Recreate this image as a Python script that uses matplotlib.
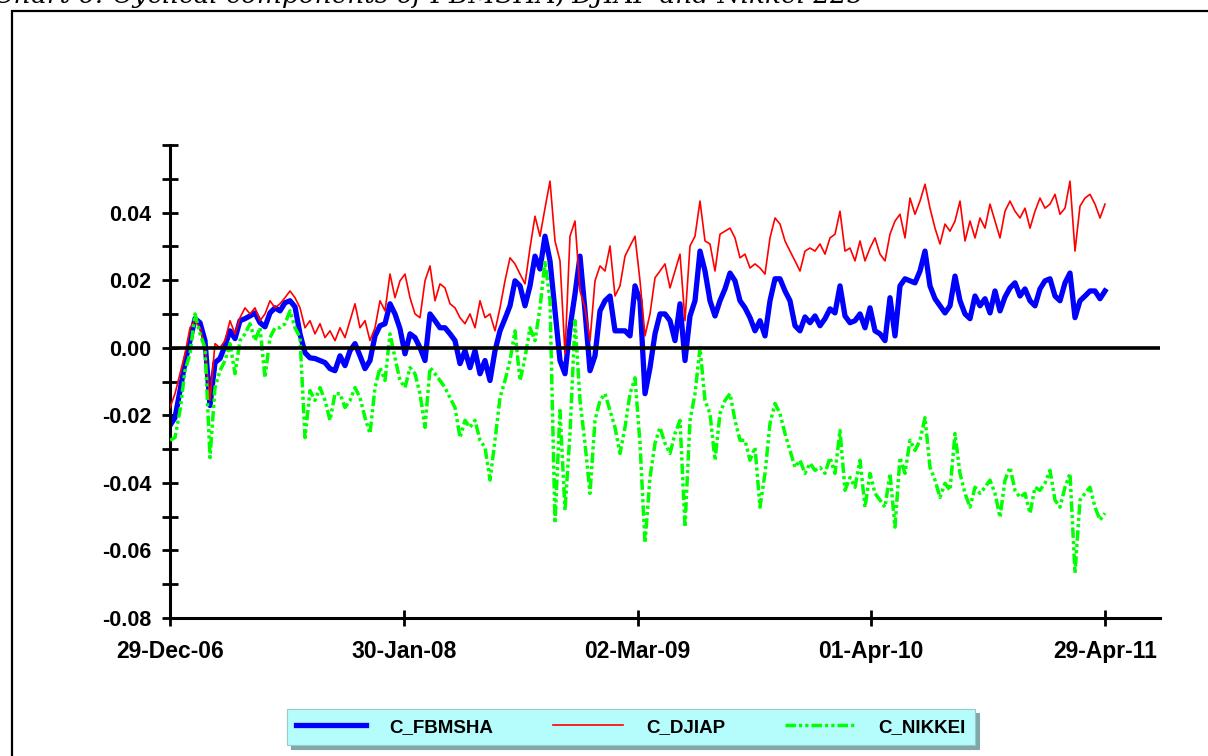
import numpy as np
import matplotlib
matplotlib.use("Agg")
import matplotlib.pyplot as plt
from matplotlib.patches import Rectangle
from matplotlib.lines import Line2D

# cyclical components (one value every ~5 trading days)
c_fbmsha = [
    -0.0230, -0.0207, -0.0127, -0.0044, 0.0021, 0.0086, 0.0074, 0.0021, -0.0171, -0.0044,
    -0.0032, 0.0006, 0.0050, 0.0027, 0.0080, 0.0086, 0.0094, 0.0103, 0.0074, 0.0062,
    0.0103, 0.0118, 0.0109, 0.0133, 0.0139, 0.0121, 0.0041, -0.0015, -0.0030, -0.0032,
    -0.0038, -0.0044, -0.0062, -0.0068, -0.0024, -0.0053, -0.0009, 0.0012, -0.0024, -0.0062,
    -0.0038, 0.0035, 0.0065, 0.0071, 0.0130, 0.0100, 0.0056, -0.0018, 0.0041, 0.0030,
    0.0000, -0.0038, 0.0100, 0.0080, 0.0059, 0.0059, 0.0041, 0.0021, -0.0047, -0.0009,
    -0.0059, -0.0009, -0.0077, -0.0038, -0.0097, -0.0009, 0.0050, 0.0086, 0.0124, 0.0198,
    0.0183, 0.0124, 0.0183, 0.0271, 0.0233, 0.0330, 0.0257, 0.0109, -0.0038, -0.0077,
    0.0059, 0.0159, 0.0271, 0.0109, -0.0068, -0.0024, 0.0109, 0.0139, 0.0153, 0.0050,
    0.0050, 0.0050, 0.0035, 0.0183, 0.0139, -0.0136, -0.0059, 0.0041, 0.0100, 0.0100,
    0.0080, 0.0021, 0.0130, -0.0038, 0.0094, 0.0139, 0.0286, 0.0227, 0.0139, 0.0094,
    0.0139, 0.0174, 0.0221, 0.0198, 0.0139, 0.0118, 0.0089, 0.0050, 0.0080, 0.0035,
    0.0139, 0.0204, 0.0204, 0.0168, 0.0139, 0.0065, 0.0050, 0.0091, 0.0074, 0.0094,
    0.0065, 0.0086, 0.0115, 0.0103, 0.0183, 0.0094, 0.0074, 0.0080, 0.0100, 0.0059,
    0.0118, 0.0050, 0.0041, 0.0021, 0.0148, 0.0035, 0.0183, 0.0204, 0.0198, 0.0192,
    0.0227, 0.0286, 0.0183, 0.0145, 0.0124, 0.0103, 0.0124, 0.0212, 0.0139, 0.0100,
    0.0086, 0.0153, 0.0124, 0.0145, 0.0103, 0.0168, 0.0109, 0.0150, 0.0177, 0.0192,
    0.0153, 0.0174, 0.0139, 0.0124, 0.0174, 0.0198, 0.0204, 0.0153, 0.0139, 0.0192,
    0.0221, 0.0089, 0.0139, 0.0153, 0.0168, 0.0168, 0.0145, 0.0168,
]

c_djiap = [
    -0.0177, -0.0136, -0.0077, -0.0018, 0.0059, 0.0080, 0.0059, 0.0000, -0.0156, 0.0012,
    0.0000, 0.0021, 0.0080, 0.0041, 0.0089, 0.0118, 0.0100, 0.0118, 0.0080, 0.0100,
    0.0139, 0.0118, 0.0130, 0.0148, 0.0168, 0.0148, 0.0118, 0.0059, 0.0080, 0.0041,
    0.0071, 0.0030, 0.0050, 0.0021, 0.0059, 0.0030, 0.0080, 0.0130, 0.0059, 0.0080,
    0.0021, 0.0059, 0.0139, 0.0109, 0.0218, 0.0148, 0.0198, 0.0218, 0.0148, 0.0100,
    0.0089, 0.0198, 0.0242, 0.0139, 0.0189, 0.0177, 0.0130, 0.0118, 0.0089, 0.0071,
    0.0100, 0.0059, 0.0139, 0.0089, 0.0100, 0.0050, 0.0118, 0.0198, 0.0266, 0.0248,
    0.0218, 0.0189, 0.0295, 0.0389, 0.0330, 0.0413, 0.0493, 0.0316, 0.0257, -0.0018,
    0.0330, 0.0375, 0.0168, 0.0118, 0.0021, 0.0198, 0.0242, 0.0227, 0.0301, 0.0153,
    0.0183, 0.0271, 0.0301, 0.0330, 0.0198, 0.0035, 0.0100, 0.0207, 0.0227, 0.0248,
    0.0177, 0.0227, 0.0277, 0.0080, 0.0301, 0.0330, 0.0434, 0.0316, 0.0307, 0.0227,
    0.0336, 0.0345, 0.0354, 0.0325, 0.0266, 0.0277, 0.0236, 0.0248, 0.0236, 0.0218,
    0.0325, 0.0384, 0.0366, 0.0316, 0.0286, 0.0257, 0.0227, 0.0286, 0.0295, 0.0286,
    0.0307, 0.0277, 0.0325, 0.0336, 0.0404, 0.0286, 0.0295, 0.0257, 0.0316, 0.0257,
    0.0295, 0.0325, 0.0277, 0.0257, 0.0336, 0.0375, 0.0395, 0.0325, 0.0443, 0.0395,
    0.0434, 0.0484, 0.0413, 0.0354, 0.0307, 0.0366, 0.0345, 0.0375, 0.0434, 0.0316,
    0.0375, 0.0325, 0.0384, 0.0354, 0.0425, 0.0375, 0.0325, 0.0404, 0.0434, 0.0404,
    0.0384, 0.0413, 0.0354, 0.0404, 0.0443, 0.0413, 0.0425, 0.0454, 0.0395, 0.0413,
    0.0493, 0.0286, 0.0419, 0.0443, 0.0454, 0.0425, 0.0384, 0.0425,
]

c_nikkei = [
    -0.0274, -0.0266, -0.0186, -0.0068, -0.0018, 0.0100, 0.0041, 0.0000, -0.0325, -0.0118,
    -0.0068, -0.0038, 0.0012, -0.0077, 0.0021, 0.0041, 0.0071, 0.0021, 0.0059, -0.0089,
    0.0030, 0.0059, 0.0059, 0.0071, 0.0109, 0.0059, 0.0030, -0.0266, -0.0127, -0.0156,
    -0.0118, -0.0156, -0.0215, -0.0136, -0.0136, -0.0177, -0.0156, -0.0118, -0.0148, -0.0207,
    -0.0254, -0.0118, -0.0059, -0.0097, 0.0041, -0.0030, -0.0097, -0.0118, -0.0059, -0.0077,
    -0.0136, -0.0236, -0.0059, -0.0077, -0.0097, -0.0118, -0.0148, -0.0177, -0.0266, -0.0215,
    -0.0236, -0.0215, -0.0274, -0.0295, -0.0392, -0.0274, -0.0148, -0.0097, -0.0038, 0.0050,
    -0.0097, -0.0030, 0.0059, 0.0021, 0.0118, 0.0257, 0.0139, -0.0519, -0.0186, -0.0481,
    -0.0254, 0.0080, -0.0156, -0.0283, -0.0431, -0.0215, -0.0156, -0.0136, -0.0186, -0.0236,
    -0.0313, -0.0236, -0.0136, -0.0089, -0.0283, -0.0578, -0.0384, -0.0283, -0.0236, -0.0283,
    -0.0313, -0.0254, -0.0215, -0.0531, -0.0215, -0.0136, 0.0000, -0.0156, -0.0195, -0.0333,
    -0.0195, -0.0156, -0.0136, -0.0215, -0.0274, -0.0274, -0.0333, -0.0295, -0.0472, -0.0372,
    -0.0224, -0.0165, -0.0195, -0.0254, -0.0304, -0.0354, -0.0333, -0.0372, -0.0342, -0.0363,
    -0.0354, -0.0372, -0.0325, -0.0372, -0.0245, -0.0422, -0.0384, -0.0413, -0.0333, -0.0472,
    -0.0372, -0.0431, -0.0451, -0.0472, -0.0372, -0.0531, -0.0325, -0.0372, -0.0274, -0.0304,
    -0.0274, -0.0207, -0.0354, -0.0392, -0.0443, -0.0401, -0.0422, -0.0254, -0.0372, -0.0431,
    -0.0472, -0.0413, -0.0431, -0.0413, -0.0392, -0.0431, -0.0502, -0.0392, -0.0354, -0.0422,
    -0.0443, -0.0431, -0.0490, -0.0413, -0.0422, -0.0401, -0.0363, -0.0451, -0.0472, -0.0413,
    -0.0372, -0.0667, -0.0451, -0.0431, -0.0413, -0.0472, -0.0510, -0.0490,
]

date_labels = ["29-Dec-06", "30-Jan-08", "02-Mar-09", "01-Apr-10", "29-Apr-11"]
series_names = ["C_FBMSHA", "C_DJIAP", "C_NIKKEI"]

n = min(len(c_fbmsha), len(c_djiap), len(c_nikkei))
x = np.arange(n)

plt.rcParams["font.family"] = ["Liberation Sans", "DejaVu Sans"]
plt.rcParams["font.weight"] = "bold"

fig = plt.figure(figsize=(12.08, 7.56), dpi=100)
W, H = 1208.0, 756.0

# outer chart frame (clipped by the page edges)
fig.add_artist(Rectangle((12 / W, -0.2), 1.2, 1.2 - 11 / H, transform=fig.transFigure,
                         fill=False, edgecolor="black", linewidth=1.6))
# caption, cut off at the top of the page
fig.text(-6 / W, 1 - 3 / H, "Chart 6: Cyclical components of FBMSHA, DJIAP and Nikkei 225",
         family="DejaVu Serif", style="italic", fontweight="normal", fontsize=19,
         ha="left", va="baseline")

ax = fig.add_axes([170 / W, 1 - 618 / H, (1160 - 170) / W, (618 - 145) / H])

nikkei_dash = (3.0, 0.9, 0.9, 0.9, 0.9, 0.9)
ax.plot(x, c_fbmsha[:n], color="#0000FF", linewidth=3.8, zorder=2, solid_joinstyle="round")
ax.plot(x, c_djiap[:n], color="#FF0000", linewidth=1.2, zorder=3)
ax.plot(x, c_nikkei[:n], color="#00FF00", linewidth=2.5, zorder=4, dashes=nikkei_dash)
ax.axhline(0, color="black", linewidth=2.6, zorder=5)

ax.set_ylim(-0.08, 0.06)
ax.set_xlim(0, (n - 1) * (1160 - 170) / (1105 - 170))

yt = np.arange(-0.08, 0.0401, 0.02)
ax.set_yticks(yt)
ax.set_yticklabels(["%.2f" % v for v in yt])
ax.set_yticks(np.arange(-0.07, 0.0601, 0.01), minor=True)
ax.set_xticks(np.linspace(0, n - 1, len(date_labels)))
ax.set_xticklabels(date_labels)

for side in ["top", "right"]:
    ax.spines[side].set_visible(False)
for side in ["left", "bottom"]:
    ax.spines[side].set_linewidth(2.2)
ax.tick_params(axis="both", which="both", direction="inout", length=11, width=2.0)
ax.tick_params(axis="y", pad=8, labelsize=15.5)
ax.tick_params(axis="x", pad=10, labelsize=16.5)
for lab in ax.get_xticklabels() + ax.get_yticklabels():
    lab.set_fontweight("bold")

# legend strip below the chart
handles = [
    Line2D([], [], color="#0000FF", linewidth=3.8),
    Line2D([], [], color="#FF0000", linewidth=1.2),
    Line2D([], [], color="#00FF00", linewidth=2.5, dashes=nikkei_dash),
]
leg = fig.legend(handles, series_names, loc="lower left", ncol=3, mode="expand",
                 bbox_to_anchor=(287 / W, 1 - 745 / H, (975 - 287) / W, 33 / H),
                 borderaxespad=0, fancybox=False, handlelength=3.7, handletextpad=1.25,
                 borderpad=0.5, prop={"weight": "bold", "size": 13.5}, framealpha=1,
                 shadow={"color": "#7FA8A8", "alpha": 1, "ox": 3, "oy": -3})
leg.get_frame().set_facecolor("#B5FCFC")
leg.get_frame().set_edgecolor("#9CC8C8")
leg.get_frame().set_linewidth(0.8)

fig.savefig("out.png", dpi=100)
